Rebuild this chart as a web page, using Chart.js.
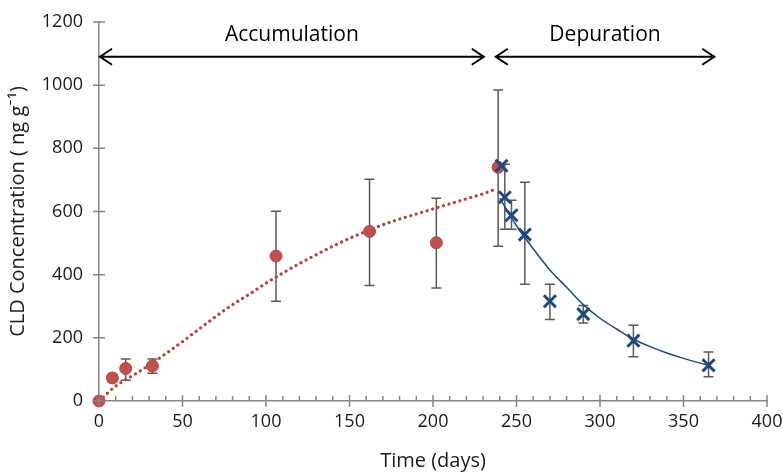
<!DOCTYPE html>
<html>
<head>
<meta charset="utf-8">
<script src="https://cdn.jsdelivr.net/npm/chart.js@4.4.1/dist/chart.umd.min.js"></script>
<style>
  html, body { margin: 0; padding: 0; background: #fff; }
  #wrap { width: 783px; height: 473px; }
</style>
</head>
<body>
<div id="wrap"><canvas id="cldChart"></canvas></div>
<script>
// measured concentrations, accumulation phase
const accDays = [0, 8, 16, 32, 106, 162, 202, 239];
const accConc = [0, 73, 103, 111, 459, 537, 501, 740];
const accLow = [null, 62, 66, 88, 316, 366, 358, 490];
const accHigh = [null, 84, 133, 133, 601, 702, 642, 985];

// measured concentrations, depuration phase (first bar coincides with the last uptake one)
const depDays = [241, 243, 247, 255, 270, 290, 320, 365];
const depConc = [745, 645, 588, 527, 316, 275, 191, 113];
const depLow = [null, 544, 544, 370, 258, 247, 140, 77];
const depHigh = [null, 750, 636, 693, 370, 302, 240, 155];

// fitted curves
const uptakeDays = [0, 10, 20, 30, 40, 50, 60, 70, 80, 90, 100, 110, 120, 130, 140, 150, 160, 170, 180, 190, 200, 210, 220, 230, 236];
const uptakeFit = [0, 47, 80, 113, 150, 188, 228, 268, 305, 338, 373, 405, 435, 463, 490, 515, 537, 558, 576, 592, 608, 624, 640, 656, 668];
const clearDays = [240, 250, 260, 270, 280, 290, 300, 310, 320, 330, 340, 350, 360, 366];
const clearFit = [642, 555, 482, 415, 360, 305, 262, 228, 196, 172, 152, 135, 120, 112];

// phase arrows across the top
const phaseLabels = ['Accumulation', 'Depuration'];
const phaseStart = [0, 237];
const phaseEnd = [231, 369];
const arrowLevel = 1090;

const FONT = '"Open Sans", Lato, sans-serif';
const AXIS_GRAY = '#868686';
const TEXT = '#1a1a1a';

const pts = (xs, ys) => xs.map((x, i) => ({ x: x, y: ys[i] }));

const errorBars = {
    id: 'errorBars',
    beforeDatasetsDraw(chart) {
        const { ctx, scales: { x, y } } = chart;
        const sets = [[accDays, accLow, accHigh], [depDays, depLow, depHigh]];
        ctx.save();
        ctx.strokeStyle = '#595959';
        ctx.lineWidth = 1.5;
        sets.forEach(([days, lo, hi]) => {
            days.forEach((d, i) => {
                if (lo[i] === null) return;
                const px = x.getPixelForValue(d);
                const top = y.getPixelForValue(hi[i]);
                const bot = y.getPixelForValue(lo[i]);
                ctx.beginPath();
                ctx.moveTo(px, top); ctx.lineTo(px, bot);
                ctx.moveTo(px - 5, top); ctx.lineTo(px + 5, top);
                ctx.moveTo(px - 5, bot); ctx.lineTo(px + 5, bot);
                ctx.stroke();
            });
        });
        ctx.restore();
    }
};

const axisTicks = {
    id: 'axisTicks',
    afterDraw(chart) {
        const { ctx, scales: { x, y }, chartArea } = chart;
        ctx.save();
        ctx.strokeStyle = AXIS_GRAY;
        ctx.lineWidth = 1.5;
        ctx.beginPath();
        for (let v = 0; v <= 1200; v += 200) {
            const py = y.getPixelForValue(v);
            ctx.moveTo(chartArea.left - 6, py); ctx.lineTo(chartArea.left + 6, py);
        }
        for (let v = 0; v <= 400; v += 10) {
            const px = x.getPixelForValue(v);
            if (v % 50 === 0) {
                ctx.moveTo(px, chartArea.bottom - 6); ctx.lineTo(px, chartArea.bottom + 6);
            } else {
                ctx.moveTo(px, chartArea.bottom - 5); ctx.lineTo(px, chartArea.bottom);
            }
        }
        ctx.stroke();

        // phase arrows and their labels
        const py = y.getPixelForValue(arrowLevel);
        ctx.strokeStyle = '#000';
        ctx.lineWidth = 2;
        ctx.fillStyle = '#000';
        ctx.font = '21px ' + FONT;
        ctx.textAlign = 'center';
        ctx.textBaseline = 'middle';
        phaseLabels.forEach((label, i) => {
            const x0 = x.getPixelForValue(phaseStart[i]);
            const x1 = x.getPixelForValue(phaseEnd[i]);
            ctx.beginPath();
            ctx.moveTo(x0, py); ctx.lineTo(x1, py);
            ctx.moveTo(x0 + 13, py - 8); ctx.lineTo(x0 + 1, py); ctx.lineTo(x0 + 13, py + 8);
            ctx.moveTo(x1 - 13, py - 8); ctx.lineTo(x1 - 1, py); ctx.lineTo(x1 - 13, py + 8);
            ctx.stroke();
            ctx.fillText(label, (x0 + x1) / 2, py - 22);
        });
        ctx.restore();
    }
};

new Chart(document.getElementById('cldChart'), {
    type: 'scatter',
    data: {
        datasets: [
            {
                label: 'Accumulation',
                data: pts(accDays, accConc),
                pointStyle: 'circle',
                pointRadius: 6,
                backgroundColor: '#C0504D',
                borderColor: '#B9443F',
                borderWidth: 1,
                clip: false,
                order: 1
            },
            {
                label: 'Depuration',
                data: pts(depDays, depConc),
                pointStyle: 'crossRot',
                pointRadius: 8.5,
                borderColor: '#1F497D',
                borderWidth: 3,
                clip: false,
                order: 0
            },
            {
                label: 'Uptake fit',
                data: pts(uptakeDays, uptakeFit),
                showLine: true,
                pointRadius: 0,
                borderColor: '#B8433F',
                borderWidth: 3.2,
                borderDash: [0.1, 5.6],
                borderCapStyle: 'round',
                cubicInterpolationMode: 'monotone',
                order: 3
            },
            {
                label: 'Depuration fit',
                data: pts(clearDays, clearFit),
                showLine: true,
                pointRadius: 0,
                borderColor: '#1F497D',
                borderWidth: 1.5,
                cubicInterpolationMode: 'monotone',
                order: 2
            }
        ]
    },
    options: {
        responsive: true,
        maintainAspectRatio: false,
        animation: false,
        layout: {
            padding: { top: 22, right: 16, bottom: 0, left: 4 }
        },
        plugins: {
            legend: { display: false },
            tooltip: { enabled: false }
        },
        scales: {
            x: {
                type: 'linear',
                min: 0,
                max: 400,
                grid: { display: false, drawTicks: false },
                border: { color: AXIS_GRAY, width: 1.5 },
                afterFit(scale) {
                    scale.height = 72;
                    scale.paddingLeft = 0;
                    scale.paddingRight = 0;
                },
                ticks: {
                    stepSize: 50,
                    padding: 10,
                    color: TEXT,
                    font: { family: FONT, size: 18 },
                    callback: (v) => String(v)
                },
                title: {
                    display: true,
                    text: 'Time (days)',
                    color: TEXT,
                    padding: { top: 4, bottom: 0 },
                    font: { family: FONT, size: 20 }
                }
            },
            y: {
                min: 0,
                max: 1200,
                grid: { display: false, drawTicks: false },
                border: { color: AXIS_GRAY, width: 1.5 },
                afterFit(scale) {
                    scale.width = 95;
                    scale.paddingTop = 0;
                    scale.paddingBottom = 0;
                },
                ticks: {
                    stepSize: 200,
                    padding: 16,
                    color: TEXT,
                    font: { family: FONT, size: 18 },
                    callback: (v) => String(v)
                },
                title: {
                    display: true,
                    text: 'CLD Concentration ( ng g\u207B\u00B9)',
                    color: TEXT,
                    padding: { top: 2, bottom: 0 },
                    font: { family: FONT, size: 20 }
                }
            }
        }
    },
    plugins: [errorBars, axisTicks]
});
</script>
</body>
</html>
